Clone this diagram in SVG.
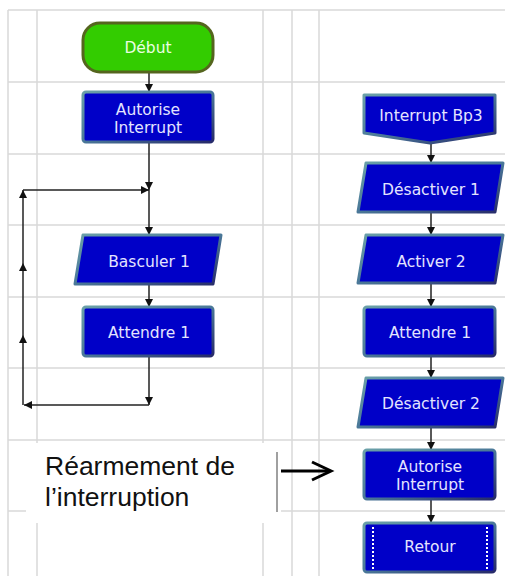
<svg xmlns="http://www.w3.org/2000/svg" width="505" height="576" viewBox="0 0 505 576">
<defs>
<style>
.grid line{stroke:#d9d9d9;stroke-width:1.5}
.blk{fill:#0000c8;stroke:url(#bevel);stroke-width:3;stroke-linejoin:round}
.lbl{font-family:"DejaVu Sans",Verdana,sans-serif;font-size:15.5px;fill:#e4e4ff;text-anchor:middle}
.con line,.con path{stroke:#222;stroke-width:1.5;fill:none;marker-end:url(#ah)}
.note{font-family:"Liberation Sans",Arial,sans-serif;font-size:26.5px;fill:#111}
</style>
<linearGradient id="bevel" x1="0" y1="0" x2="1" y2="1">
<stop offset="0" stop-color="#6aa0a8"/>
<stop offset="0.5" stop-color="#4a7898"/>
<stop offset="1" stop-color="#262a6a"/>
</linearGradient>
<marker id="ah" markerUnits="userSpaceOnUse" markerWidth="9" markerHeight="9" refX="8" refY="4" orient="auto">
<path d="M0,0 L8,4 L0,8 z" fill="#111"/>
</marker>
</defs>
<rect width="505" height="576" fill="#fff"/>
<g class="grid">
<line x1="8" y1="10" x2="505" y2="10"/>
<line x1="8" y1="82" x2="505" y2="82"/>
<line x1="8" y1="154" x2="505" y2="154"/>
<line x1="8" y1="225" x2="505" y2="225"/>
<line x1="8" y1="297" x2="505" y2="297"/>
<line x1="8" y1="368" x2="505" y2="368"/>
<line x1="8" y1="440" x2="505" y2="440"/>
<line x1="8" y1="511" x2="505" y2="511"/>
<line x1="8" y1="10" x2="8" y2="576"/>
<line x1="37" y1="10" x2="37" y2="576"/>
<line x1="263" y1="10" x2="263" y2="576"/>
<line x1="292" y1="10" x2="292" y2="576"/>
<line x1="319" y1="10" x2="319" y2="576"/>
</g>
<g id="note">
<rect x="26" y="443" width="255" height="80" fill="#fff"/>
<line x1="277" y1="452" x2="277" y2="512" stroke="#a0a0a0" stroke-width="2"/>
<text class="note" x="45" y="475">Réarmement de</text>
<text class="note" x="45" y="506">l’interruption</text>
<line x1="281" y1="471" x2="330" y2="471" stroke="#000" stroke-width="3"/>
<polyline points="312,462 331,471 312,480" fill="none" stroke="#000" stroke-width="3"/>
</g>
<g class="con">
<line x1="149" y1="72" x2="149" y2="92"/>
<line x1="149" y1="142" x2="149" y2="190"/>
<line x1="149" y1="190" x2="149" y2="235"/>
<line x1="149" y1="284" x2="149" y2="307"/>
<line x1="149" y1="356" x2="149" y2="405"/>
<line x1="149" y1="405" x2="24" y2="405"/>
<line x1="23" y1="405" x2="23" y2="335"/>
<line x1="23" y1="335" x2="23" y2="263"/>
<line x1="23" y1="263" x2="23" y2="190"/>
<line x1="23" y1="190" x2="149" y2="190"/>
<line x1="431" y1="143" x2="431" y2="163"/>
<line x1="431" y1="212" x2="431" y2="235"/>
<line x1="431" y1="283" x2="431" y2="307"/>
<line x1="431" y1="356" x2="431" y2="378"/>
<line x1="431" y1="427" x2="431" y2="450"/>
<line x1="431" y1="499" x2="431" y2="523"/>
</g>
<g id="debut">
<rect x="83" y="23" width="130" height="49" rx="17" fill="#33cc00" stroke="#55651e" stroke-width="3"/>
<text class="lbl" x="148" y="53" style="fill:#eaffe0">Début</text>
</g>
<g id="autorise1">
<rect class="blk" x="83" y="92" width="130" height="50" rx="3"/>
<text class="lbl" x="148" y="115">Autorise</text>
<text class="lbl" x="148" y="133">Interrupt</text>
</g>
<g id="basculer">
<polygon class="blk" points="83,235 221,235 213,284 75,284"/>
<text class="lbl" x="149" y="267">Basculer 1</text>
</g>
<g id="attendre1">
<rect class="blk" x="83" y="307" width="130" height="49" rx="3"/>
<text class="lbl" x="149" y="338">Attendre 1</text>
</g>
<g id="interrupt">
<polygon class="blk" points="364,95 495,95 495,133 430,143 364,133"/>
<text class="lbl" x="431" y="121">Interrupt Bp3</text>
</g>
<g id="desactiver1">
<polygon class="blk" points="366,163 503,163 495,212 358,212"/>
<text class="lbl" x="431" y="195">Désactiver 1</text>
</g>
<g id="activer2">
<polygon class="blk" points="366,235 503,235 495,283 358,283"/>
<text class="lbl" x="431" y="267">Activer 2</text>
</g>
<g id="attendre2">
<rect class="blk" x="364" y="307" width="131" height="49" rx="3"/>
<text class="lbl" x="430" y="338">Attendre 1</text>
</g>
<g id="desactiver2">
<polygon class="blk" points="366,378 503,378 495,427 358,427"/>
<text class="lbl" x="431" y="409">Désactiver 2</text>
</g>
<g id="autorise2">
<rect class="blk" x="364" y="450" width="131" height="49" rx="3"/>
<text class="lbl" x="430" y="472">Autorise</text>
<text class="lbl" x="430" y="490">Interrupt</text>
</g>
<g id="retour">
<rect class="blk" x="364" y="523" width="131" height="49" rx="3"/>
<line x1="373" y1="527" x2="373" y2="569" stroke="#fff" stroke-width="2" stroke-dasharray="2,2"/>
<line x1="487" y1="527" x2="487" y2="569" stroke="#fff" stroke-width="2" stroke-dasharray="2,2"/>
<text class="lbl" x="430" y="552">Retour</text>
</g>
</svg>
